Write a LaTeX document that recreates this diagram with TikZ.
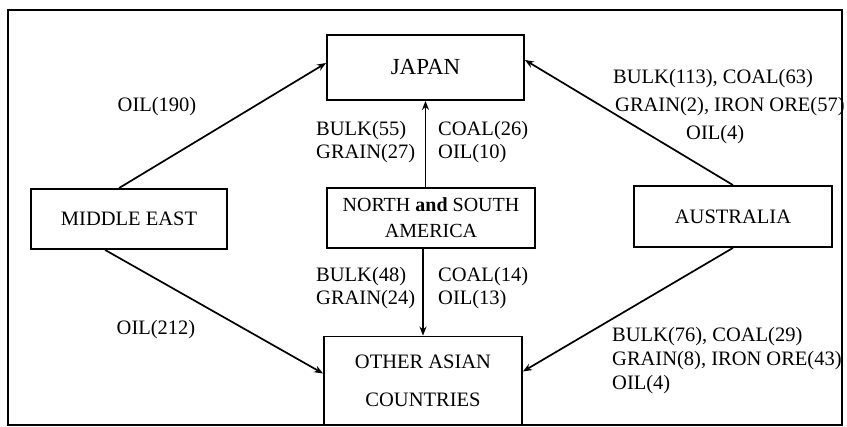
\documentclass[tikz,border=0pt]{standalone}
\usepackage{fontspec}
\setmainfont{Liberation Serif}
\usetikzlibrary{arrows.meta}
\begin{document}
\begin{tikzpicture}[x=1pt,y=-1pt,
  every node/.style={font=\fontsize{20.5}{23}\selectfont, inner sep=0pt},
  box/.style={draw, line width=1.8pt, align=center},
  flow/.style={line width=1.7pt, -{Stealth[length=9pt,width=7pt]}},
  lbl/.style={align=left, anchor=west}]
\useasboundingbox (0,0) rectangle (847,427);
\draw[line width=1.8pt] (8,10) rectangle (842,425);
\node[box, minimum width=197pt, minimum height=65pt, font=\fontsize{23}{26}\selectfont] (japan) at (425.5,67.5) {JAPAN};
\node[box, minimum width=196pt, minimum height=60pt] (me) at (129,219) {MIDDLE EAST};
\node[box, minimum width=208pt, minimum height=60pt, font=\fontsize{20}{26}\selectfont] (am) at (431,218) {NORTH \textbf{and} SOUTH\\AMERICA};
\node[box, minimum width=198pt, minimum height=61pt] (au) at (733,216.5) {AUSTRALIA};
\node[box, minimum width=198pt, minimum height=89pt, font=\fontsize{20.5}{38}\selectfont] (other) at (423,381) {OTHER ASIAN\\COUNTRIES};
\draw[flow] ([xshift=-10pt]me.north) -- ([yshift=4.5pt]japan.west);
\draw[flow] ([xshift=-24pt]me.south) -- ([yshift=7.5pt]other.west);
\draw[flow] (au.north) -- ([yshift=7.5pt]japan.east);
\draw[flow] (au.south) -- ([yshift=9.5pt]other.east);
\draw[flow] (japan.south |- am.north) -- (japan.south);
\draw[flow] (other.north |- am.south) -- (other.north);
\node (l1) at (157,107) {OIL(190)};
\node (l2) at (156,330) {OIL(212)};
\node[lbl] (l3) at (316,142.5) {BULK(55)\\GRAIN(27)};
\node[lbl] (l4) at (438,142.5) {COAL(26)\\OIL(10)};
\node[lbl] (l5) at (316,288.5) {BULK(48)\\GRAIN(24)};
\node[lbl] (l6) at (438,288.5) {COAL(14)\\OIL(13)};
\node[lbl, font=\fontsize{20.5}{28}\selectfont] (l7) at (613,107) {BULK(113), COAL(63)\\\hspace*{2pt}GRAIN(2), IRON ORE(57)\\\hspace*{73pt}OIL(4)};
\node[lbl, font=\fontsize{20.5}{24}\selectfont] (l8) at (612,361) {BULK(76), COAL(29)\\GRAIN(8), IRON ORE(43)\\OIL(4)};
\end{tikzpicture}
\end{document}
